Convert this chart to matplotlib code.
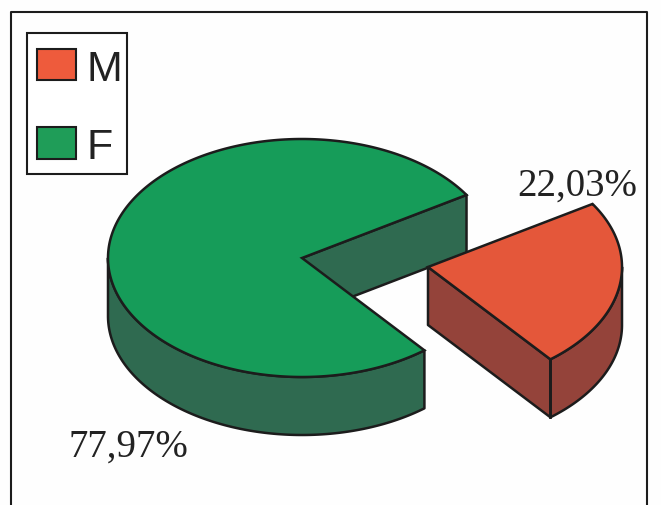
import numpy as np
import matplotlib
matplotlib.use('Agg')
import matplotlib.pyplot as plt
from matplotlib.patches import Rectangle

# Data
labels = ['M', 'F']
shares = [22.03, 77.97]
colors_top = ['#e4573a', '#169c59']
colors_side = ['#94433a', '#2f6a50']

# Pie geometry in pixels
CENTER = (302, 259)
OFFSET = (126, 9)
RX = 194
RY = 119
DEPTH = 58
START = 32.0
WIDEN = 1.045  # the M wedge is drawn a bit wider than its share
EDGE = '#1c1c1c'
LW = 1.8


def rim(cx, cy, a0, a1, n=200):
    t = np.radians(np.linspace(a0, a1, n))
    return cx + RX * np.cos(t), cy - RY * np.sin(t)


def side_wall(ax, xs, ys, color):
    px = np.concatenate([xs, xs[::-1]])
    py = np.concatenate([ys, ys[::-1] + DEPTH])
    ax.fill(px, py, facecolor=color, edgecolor=EDGE, linewidth=LW, joinstyle='round')


fig = plt.figure(figsize=(6.61, 5.06), dpi=100)
ax = fig.add_axes([0, 0, 1, 1])
ax.set_xlim(0, 661)
ax.set_ylim(506, 0)
ax.axis('off')

# Outer frame, runs off the bottom of the page
ax.plot([11, 11, 647, 647], [506, 13, 13, 506], color=EDGE, lw=1.5)

end = START - shares[0] * 3.6 * WIDEN

# F slice
cx, cy = CENTER
x, y = rim(cx, cy, START, end, 2)
side_wall(ax, np.array([cx, x[0]]), np.array([cy, y[0]]), colors_side[1])
x, y = rim(cx, cy, 180, end + 360)
side_wall(ax, x, y, colors_side[1])
x, y = rim(cx, cy, START, end + 360, 400)
ax.fill(np.r_[cx, x], np.r_[cy, y], facecolor=colors_top[1], edgecolor=EDGE, linewidth=LW)

# M slice, pulled out
cx, cy = CENTER[0] + OFFSET[0], CENTER[1] + OFFSET[1]
x, y = rim(cx, cy, START, end, 2)
side_wall(ax, np.array([cx, x[1]]), np.array([cy, y[1]]), colors_side[0])
ax.plot([x[1], x[1]], [y[1], y[1] + DEPTH], color=EDGE, lw=LW)
x, y = rim(cx, cy, end, 0)
side_wall(ax, x, y, colors_side[0])
x, y = rim(cx, cy, START, end)
ax.fill(np.r_[cx, x], np.r_[cy, y], facecolor=colors_top[0], edgecolor=EDGE, linewidth=LW)
ax.plot([x[-1], x[-1]], [y[-1], y[-1] + DEPTH], color=EDGE, lw=LW)

# Percent labels
ax.text(577, 196, f'{shares[0]:.2f}%'.replace('.', ','), family='Liberation Serif',
        fontsize=28, ha='center', va='baseline', color='#222222')
ax.text(128, 457, f'{shares[1]:.2f}%'.replace('.', ','), family='Liberation Serif',
        fontsize=28, ha='center', va='baseline', color='#222222')

# Legend box
ax.add_patch(Rectangle((26.5, 34), 100.5, 141, facecolor='white', edgecolor=EDGE, lw=1.5))
ax.add_patch(Rectangle((37, 50), 39, 31, facecolor='#ee5b3c', edgecolor=EDGE, lw=1.5))
ax.add_patch(Rectangle((36.5, 128), 39, 32, facecolor='#1f9d58', edgecolor=EDGE, lw=1.5))
ax.text(86, 81, labels[0], family='Liberation Sans', fontsize=31, va='baseline', color='#222222')
ax.text(86, 159, labels[1], family='Liberation Sans', fontsize=31, va='baseline', color='#222222')

fig.savefig('out.png', dpi=100, facecolor='#fefefe')
